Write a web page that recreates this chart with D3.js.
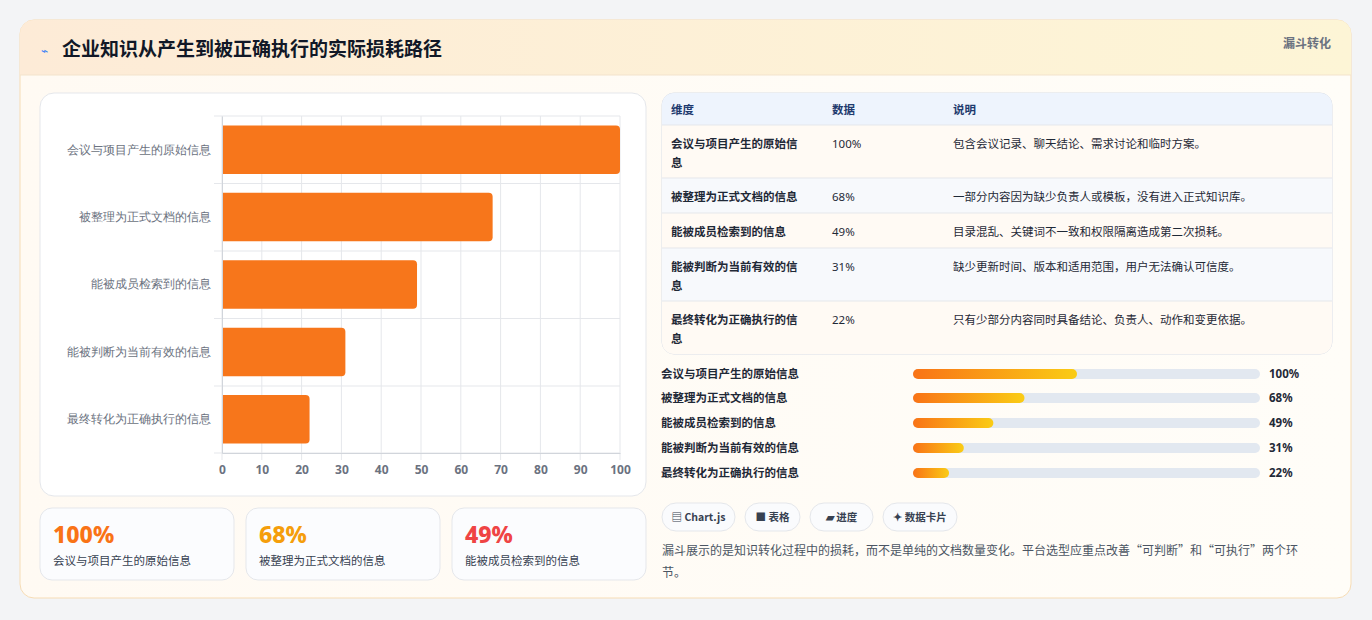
<!DOCTYPE html>
<html><head><meta charset="utf-8">
<script src="https://cdn.jsdelivr.net/npm/d3@7"></script>
<style>
body{margin:0;width:1372px;height:620px;background:#f3f4f6;font-family:"Noto Sans CJK SC","Noto Sans",sans-serif;overflow:hidden}
</style></head><body>
<svg id="c" width="1372" height="620"></svg>
<script>
const categories=["会议与项目产生的原始信息","被整理为正式文档的信息","能被成员检索到的信息","能被判断为当前有效的信息","最终转化为正确执行的信息"];
const values=[100,68,49,31,22];
const notes=["包含会议记录、聊天结论、需求讨论和临时方案。","一部分内容因为缺少负责人或模板，没有进入正式知识库。","目录混乱、关键词不一致和权限隔离造成第二次损耗。","缺少更新时间、版本和适用范围，用户无法确认可信度。","只有少部分内容同时具备结论、负责人、动作和变更依据。"];
const xTicks=[0,10,20,30,40,50,60,70,80,90,100];
const tableHead=["维度","数据","说明"];
const chips=["▤ Chart.js","■ 表格","▰ 进度","✦ 数据卡片"];
const svg=d3.select("#c");
const defs=svg.append("defs");
const bg=defs.append("linearGradient").attr("id","hdr");
bg.append("stop").attr("offset","0").attr("stop-color","#fdebd7");
bg.append("stop").attr("offset","1").attr("stop-color","#fdf5d6");
const pg=defs.append("linearGradient").attr("id","pg");
pg.append("stop").attr("offset","0").attr("stop-color","#f97316");
pg.append("stop").attr("offset","1").attr("stop-color","#facc15");
const cg=defs.append("linearGradient").attr("id","card");
cg.append("stop").attr("offset","0").attr("stop-color","#fffaf3");
cg.append("stop").attr("offset","1").attr("stop-color","#fffdf8");
defs.append("clipPath").attr("id","hc").append("rect").attr("x",20).attr("y",20).attr("width",1331).attr("height",578).attr("rx",14);
// main card
svg.append("rect").attr("x",20).attr("y",20).attr("width",1331).attr("height",578).attr("rx",14).attr("fill","url(#card)").attr("stroke","#f6dcb5");
svg.append("rect").attr("x",20).attr("y",20).attr("width",1331).attr("height",55).attr("fill","url(#hdr)").attr("clip-path","url(#hc)");
svg.append("line").attr("x1",20).attr("x2",1351).attr("y1",75).attr("y2",75).attr("stroke","#f3e3cc");
svg.append("text").attr("x",41).attr("y",55).attr("font-size",12).attr("fill","#3b82f6").text("⌁");
svg.append("text").attr("x",62).attr("y",56).attr("font-size",19).attr("font-weight",700).attr("fill","#111827").text("企业知识从产生到被正确执行的实际损耗路径");
svg.append("text").attr("x",1331).attr("y",48).attr("text-anchor","end").attr("font-size",12).attr("font-weight",700).attr("fill","#6b7280").text("漏斗转化");
// chart panel
svg.append("rect").attr("x",40).attr("y",93).attr("width",606).attr("height",403).attr("rx",14).attr("fill","#fff").attr("stroke","#e5e7eb");
const x=d3.scaleLinear().domain([0,100]).range([222,620]);
const y=d3.scaleBand().domain(categories).range([116,453]).paddingInner(0.28).paddingOuter(0.14);
const g=svg.append("g");
xTicks.forEach(t=>g.append("line").attr("x1",x(t)).attr("x2",x(t)).attr("y1",116).attr("y2",460).attr("stroke","#e5e7eb"));
const edges=[116,183.5,251,318.5,386,453];
edges.forEach(e=>g.append("line").attr("x1",214).attr("x2",620).attr("y1",e).attr("y2",e).attr("stroke","#e5e7eb"));
g.selectAll(".b").data(values).join("path").attr("fill","#f7761b")
 .attr("d",(v,i)=>{const x0=x(0),x1=x(v),y0=y(categories[i]),h=y.bandwidth(),r=4;
   return `M${x0},${y0}H${x1-r}Q${x1},${y0} ${x1},${y0+r}V${y0+h-r}Q${x1},${y0+h} ${x1-r},${y0+h}H${x0}Z`;});
const xa=svg.append("g").attr("transform","translate(0,453)").call(d3.axisBottom(x).tickValues(xTicks).tickSize(0).tickPadding(12));
xa.select(".domain").attr("stroke","#d1d5db");xa.selectAll("text").attr("font-size",12).attr("fill","#6b7280").attr("font-weight",700).attr("font-family","Noto Sans");
const ya=svg.append("g").attr("transform","translate(222,0)").call(d3.axisLeft(y).tickSize(0).tickPadding(11));
ya.select(".domain").attr("stroke","#d1d5db");ya.selectAll("text").attr("font-size",12).attr("fill","#6b7280");
// stat cards
[0,1,2].forEach(i=>{const cx=40+i*206;
 svg.append("rect").attr("x",cx).attr("y",508).attr("width",194).attr("height",72).attr("rx",12).attr("fill","#fbfcfe").attr("stroke","#e5e7eb");
 svg.append("text").attr("x",cx+13).attr("y",543).attr("font-size",23).attr("font-weight",800).attr("fill",["#f97316","#f59e0b","#ef4444"][i]).attr("font-family","Noto Sans").text(values[i]+"%");
 svg.append("text").attr("x",cx+13).attr("y",565).attr("font-size",11.5).attr("fill","#374151").text(categories[i]);
});
// table
svg.append("rect").attr("x",662).attr("y",93).attr("width",670).attr("height",261).attr("rx",12).attr("fill","#fff").attr("stroke","#d9dee7");
defs.append("clipPath").attr("id","tc").append("rect").attr("x",662).attr("y",93).attr("width",670).attr("height",261).attr("rx",12);
const tg=svg.append("g").attr("clip-path","url(#tc)");
tg.append("rect").attr("x",662).attr("y",93).attr("width",670).attr("height",32).attr("fill","#eef4fd");
const rowY=[125,178,213,248,301,354];
const colX=[671,832,953];
tableHead.forEach((h,j)=>tg.append("text").attr("x",colX[j]).attr("y",114).attr("font-size",11.5).attr("font-weight",700).attr("fill","#1e3a6e").text(h));
categories.forEach((c,i)=>{
 tg.append("rect").attr("x",662).attr("y",rowY[i]).attr("width",670).attr("height",rowY[i+1]-rowY[i]).attr("fill",i%2?"#f7f9fc":"#fffaf4");
 tg.append("line").attr("x1",662).attr("x2",1332).attr("y1",rowY[i]).attr("y2",rowY[i]).attr("stroke","#e5e7eb");
 const two=rowY[i+1]-rowY[i]>40;
 const t=tg.append("text").attr("x",colX[0]).attr("y",rowY[i]+23).attr("font-size",11.5).attr("font-weight",700).attr("fill","#1f2937");
 if(two&&c.length>10){t.append("tspan").attr("x",colX[0]).text(c.slice(0,c.length-1));t.append("tspan").attr("x",colX[0]).attr("dy",19).text(c.slice(-1));}else t.text(c);
 tg.append("text").attr("x",colX[1]).attr("y",rowY[i]+23).attr("font-size",11.5).attr("fill","#1f2937").attr("font-family","Noto Sans").text(values[i]+"%");
 tg.append("text").attr("x",colX[2]).attr("y",rowY[i]+23).attr("font-size",11.5).attr("fill","#1f2937").text(notes[i]);
});
// progress
const p=d3.scaleLinear().domain([0,100]).range([0,164]);
const py=[374,398,423,448,473];
categories.forEach((c,i)=>{
 svg.append("text").attr("x",661).attr("y",py[i]+4).attr("font-size",11.5).attr("font-weight",700).attr("fill","#1f2937").text(c);
 svg.append("rect").attr("x",913).attr("y",py[i]-5).attr("width",347).attr("height",10).attr("rx",5).attr("fill","#e2e8f0");
 svg.append("rect").attr("x",913).attr("y",py[i]-5).attr("width",p(values[i])).attr("height",10).attr("rx",5).attr("fill","url(#pg)");
 svg.append("text").attr("x",1269).attr("y",py[i]+4).attr("font-size",11.5).attr("font-weight",700).attr("fill","#1f2937").attr("font-family","Noto Sans").text(values[i]+"%");
});
// chips
let cx=662;
const cw=[73,55,63,74];
chips.forEach((c,i)=>{
 svg.append("rect").attr("x",cx).attr("y",503).attr("width",cw[i]).attr("height",28).attr("rx",14).attr("fill","#fafbfd").attr("stroke","#e5e7eb");
 svg.append("text").attr("x",cx+cw[i]/2).attr("y",521).attr("text-anchor","middle").attr("font-size",10.5).attr("font-weight",700).attr("fill","#374151").text(c);
 cx+=cw[i]+10;
});
const ft=svg.append("text").attr("font-size",12).attr("fill","#4b5563");
ft.append("tspan").attr("x",662).attr("y",555).text("漏斗展示的是知识转化过程中的损耗，而不是单纯的文档数量变化。平台选型应重点改善“可判断”和“可执行”两个环");
ft.append("tspan").attr("x",662).attr("y",577).text("节。");
</script></body></html>
